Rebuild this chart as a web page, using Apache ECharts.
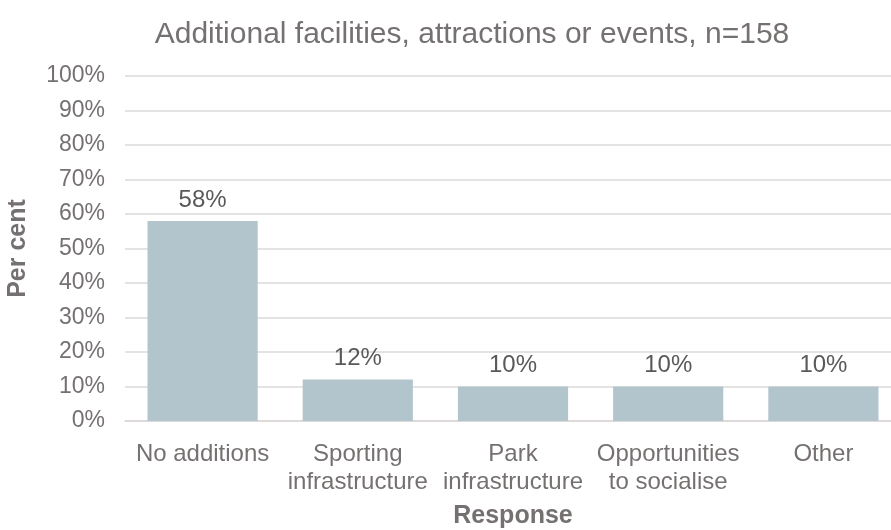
<!DOCTYPE html>
<html>
<head>
<meta charset="utf-8">
<script src="https://cdn.jsdelivr.net/npm/echarts@6/dist/echarts.min.js"></script>
<style>
  html, body { margin: 0; padding: 0; background: #ffffff; }
  #chart { width: 891px; height: 530px; }
</style>
</head>
<body>
<div id="chart"></div>
<script>
// Responses (x categories) and their shares in per cent
const categories = [
  'No additions',
  'Sporting\ninfrastructure',
  'Park\ninfrastructure',
  'Opportunities\nto socialise',
  'Other'
];
const shares = [58, 12, 10, 10, 10];

const textGrey = '#767171';
const fontFamily = '"Liberation Sans", Arial, sans-serif';

const chart = echarts.init(document.getElementById('chart'), null, { renderer: 'canvas' });

chart.setOption({
  animation: false,
  backgroundColor: '#ffffff',
  title: {
    text: 'Additional facilities, attractions or events, n=158',
    left: 467,
    top: 15,
    textAlign: 'center',
    textStyle: { color: textGrey, fontSize: 30, fontWeight: 'normal', fontFamily }
  },
  // fixed plot rectangle; the last category runs slightly past the right edge
  grid: {
    left: 125, top: 76, width: 776, height: 345,
    containLabel: false,
    outerBoundsMode: 'none'
  },
  xAxis: {
    type: 'category',
    data: categories,
    name: 'Response',
    nameLocation: 'middle',
    nameGap: 83,
    nameTextStyle: { color: textGrey, fontSize: 25, fontWeight: 'bold', fontFamily },
    axisLine: { show: true, lineStyle: { color: '#dcd8d8', width: 1.5 } },
    axisTick: { show: false },
    axisLabel: {
      color: textGrey, fontSize: 24, fontFamily, margin: 19, lineHeight: 28, interval: 0
    }
  },
  yAxis: {
    type: 'value',
    min: 0,
    max: 100,
    interval: 10,
    name: 'Per cent',
    nameLocation: 'middle',
    nameGap: 94,
    nameRotate: 90,
    nameTextStyle: { color: textGrey, fontSize: 25, fontWeight: 'bold', fontFamily },
    axisLine: { show: false },
    axisTick: { show: false },
    axisLabel: {
      color: textGrey, fontSize: 23, fontFamily, margin: 20,
      formatter: v => v + '%'
    },
    splitLine: { lineStyle: { color: '#dcd8d8', width: 1.5 } }
  },
  series: [{
    type: 'bar',
    data: shares,
    barCategoryGap: '29%',
    itemStyle: { color: '#b3c5cc' },
    label: {
      show: true,
      position: 'top',
      distance: 9,
      color: '#595959',
      fontSize: 24,
      fontFamily,
      formatter: p => p.value + '%'
    }
  }]
});
</script>
</body>
</html>
